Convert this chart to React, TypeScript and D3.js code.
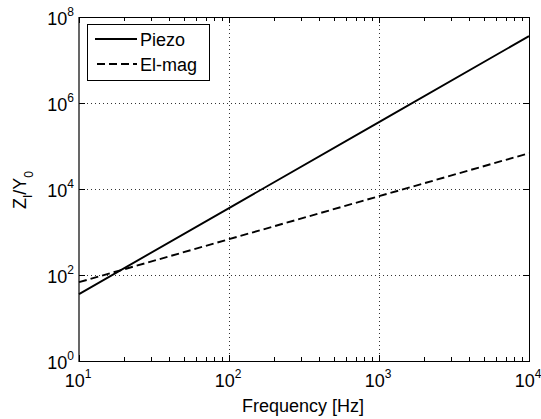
import React from "react";
import * as d3 from "d3";

const freq = [10, 100, 1000, 10000];
const piezo = [36, 3600, 360000, 36000000];
const elmag = [68, 680, 6800, 68000];
const xTickExps = [1, 2, 3, 4];
const yTickExps = [0, 2, 4, 6, 8];

const W = 541;
const H = 419;
const M = { left: 79, right: 529, top: 17, bottom: 361 };
const FONT = "'Liberation Sans', Arial, Helvetica, sans-serif";

export default function App() {
  const x = d3.scaleLog().domain([10, 10000]).range([M.left, M.right]);
  const y = d3.scaleLog().domain([1, 1e8]).range([M.bottom, M.top]);
  const line = d3
    .line<number>()
    .x((_, i) => x(freq[i]))
    .y((d) => y(d));

  const minorX: number[] = [];
  for (let e = 1; e < 4; e++) {
    for (let k = 2; k <= 9; k++) minorX.push(k * Math.pow(10, e));
  }

  return (
    <svg
      width={W}
      height={H}
      style={{ position: "absolute", left: 0, top: 0, background: "#fff" }}
      fontFamily={FONT}
    >
      <rect x={0} y={0} width={W} height={H} fill="#fff" />
      {/* grid */}
      {xTickExps.slice(1, 3).map((e) => (
        <line
          key={"gx" + e}
          x1={Math.round(x(Math.pow(10, e))) + 0.5}
          x2={Math.round(x(Math.pow(10, e))) + 0.5}
          y1={M.top}
          y2={M.bottom}
          stroke="#333"
          strokeDasharray="1,3"
        />
      ))}
      {yTickExps.slice(1, 4).map((e) => (
        <line
          key={"gy" + e}
          x1={M.left}
          x2={M.right}
          y1={Math.round(y(Math.pow(10, e))) + 0.5}
          y2={Math.round(y(Math.pow(10, e))) + 0.5}
          stroke="#333"
          strokeDasharray="1,3"
        />
      ))}
      {/* minor x ticks */}
      {minorX.map((v, i) => {
        const px = Math.round(x(v)) + 0.5;
        return (
          <g key={"mx" + i}>
            <line x1={px} x2={px} y1={M.bottom} y2={M.bottom - 4} stroke="#000" />
            <line x1={px} x2={px} y1={M.top} y2={M.top + 4} stroke="#000" />
          </g>
        );
      })}
      {/* major x ticks */}
      {xTickExps.map((e) => {
        const px = Math.round(x(Math.pow(10, e))) + 0.5;
        return (
          <g key={"tx" + e}>
            <line x1={px} x2={px} y1={M.bottom} y2={M.bottom - 6} stroke="#000" />
            <line x1={px} x2={px} y1={M.top} y2={M.top + 6} stroke="#000" />
            <text x={x(Math.pow(10, e)) - 1} y={M.bottom + 26} fontSize={18} textAnchor="middle" fill="#000">
              10
              <tspan dy={-9} fontSize={12}>
                {e}
              </tspan>
            </text>
          </g>
        );
      })}
      {/* y ticks */}
      {yTickExps.map((e) => {
        const py = Math.round(y(Math.pow(10, e))) + 0.5;
        return (
          <g key={"ty" + e}>
            <line x1={M.left} x2={M.left + 6} y1={py} y2={py} stroke="#000" />
            <line x1={M.right} x2={M.right - 6} y1={py} y2={py} stroke="#000" />
            <text x={74} y={y(Math.pow(10, e)) + 8} fontSize={18} textAnchor="end" fill="#000">
              10
              <tspan dy={-9} fontSize={12}>
                {e}
              </tspan>
            </text>
          </g>
        );
      })}
      {/* box */}
      <line x1={M.left} x2={M.left} y1={M.top} y2={M.bottom + 1} stroke="#000" strokeWidth={1.2} />
      <line x1={M.right + 0.5} x2={M.right + 0.5} y1={M.top} y2={M.bottom} stroke="#000" />
      <line x1={M.left} x2={M.right} y1={M.top + 0.5} y2={M.top + 0.5} stroke="#000" />
      <line x1={M.left} x2={M.right + 1} y1={M.bottom + 0.5} y2={M.bottom + 0.5} stroke="#000" />
      {/* series */}
      <path d={line(piezo) || ""} fill="none" stroke="#000" strokeWidth={1.9} />
      <path
        d={line(elmag) || ""}
        fill="none"
        stroke="#000"
        strokeWidth={1.9}
        strokeDasharray="8,4"
      />
      {/* legend */}
      <rect x={87.5} y={24.5} width={122} height={56} fill="#fff" stroke="#000" />
      <line x1={95} x2={137} y1={39} y2={39} stroke="#000" strokeWidth={1.9} />
      <text x={140} y={46} fontSize={18} fill="#000">
        Piezo
      </text>
      <line x1={97} x2={137} y1={64} y2={64} stroke="#000" strokeWidth={1.9} strokeDasharray="8,4" />
      <text x={140} y={71} fontSize={18} fill="#000">
        El-mag
      </text>
      {/* axis labels */}
      <text x={303} y={412} fontSize={18} textAnchor="middle" fill="#000">
        Frequency [Hz]
      </text>
      <text transform="translate(26,190) rotate(-90)" fontSize={18} textAnchor="middle" fill="#000">
        Z
        <tspan dy={6} fontSize={12}>
          I
        </tspan>
        <tspan dy={-6}>/Y</tspan>
        <tspan dy={7} fontSize={12}>
          0
        </tspan>
      </text>
    </svg>
  );
}
